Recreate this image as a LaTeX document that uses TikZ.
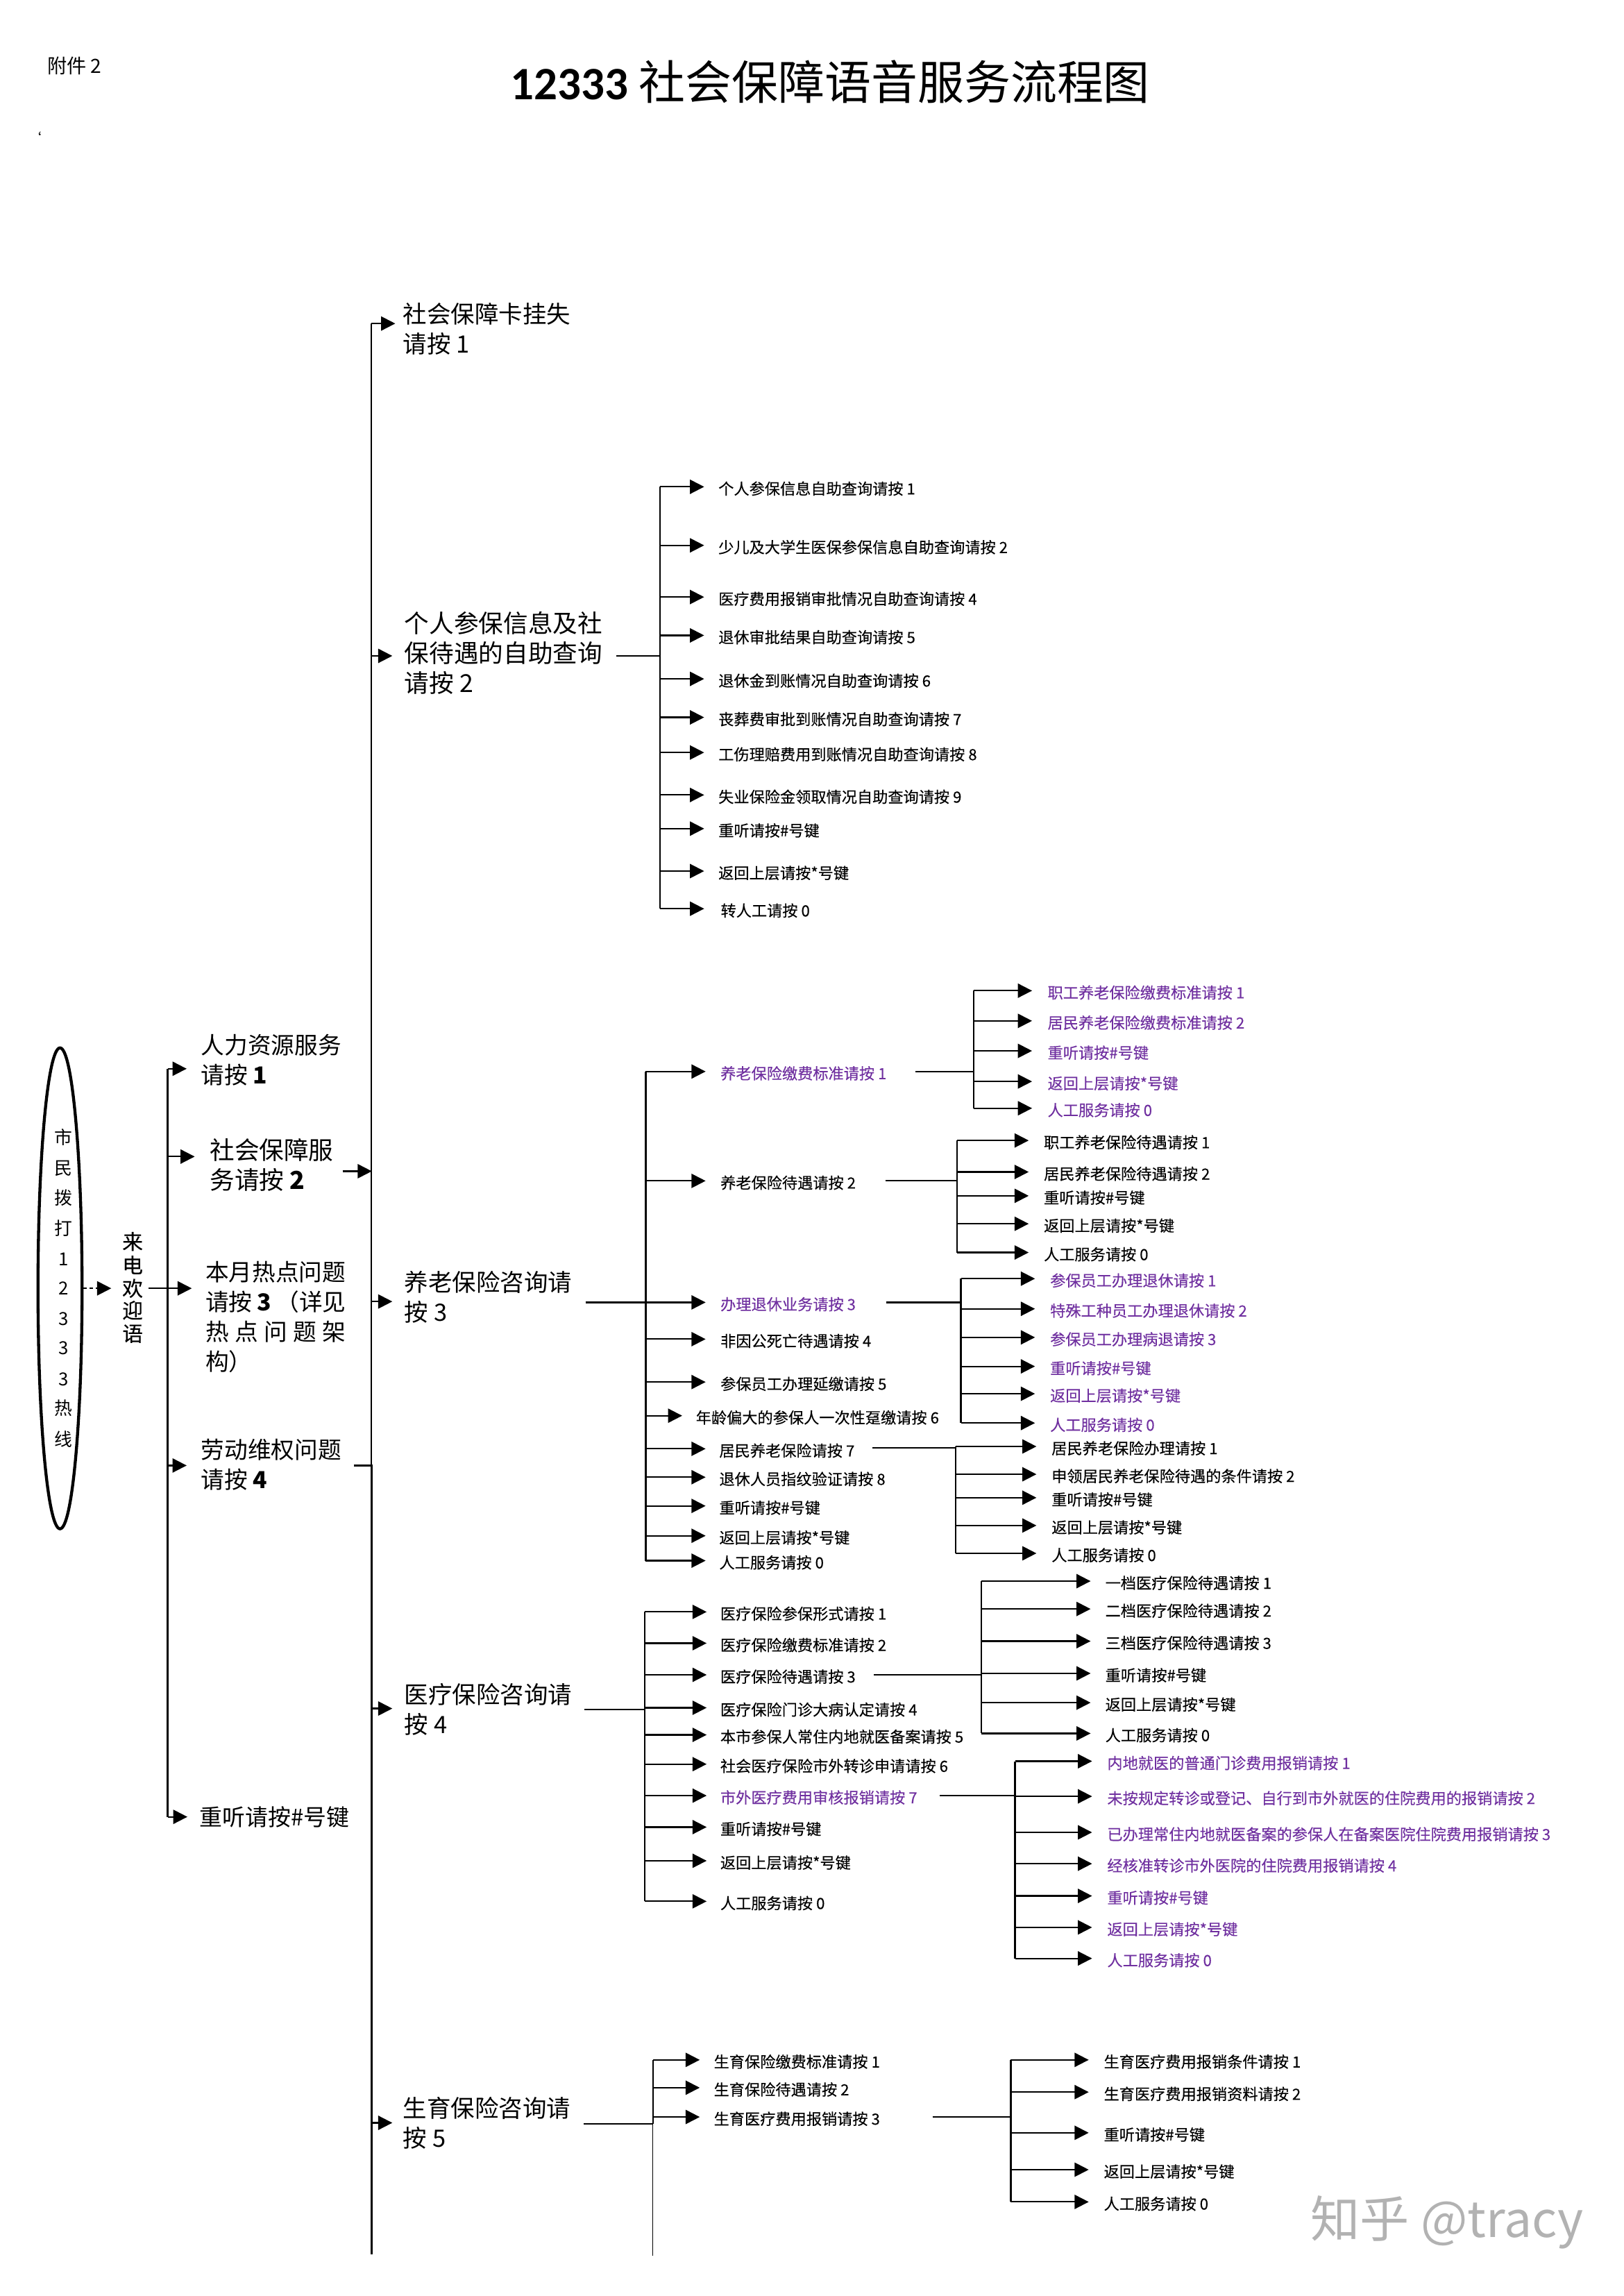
\documentclass[tikz,border=0pt]{standalone}
\usepackage{fontspec}
\usetikzlibrary{arrows.meta,shapes.geometric}
\setmainfont{Noto Sans CJK SC}
\newfontfamily\titlelatin{Carlito}
\newfontfamily\leaffont{Noto Sans CJK SC}[FakeBold=0.2]
\definecolor{purp}{HTML}{7030A0}
\tikzset{
  conn/.style={line width=0.55pt,draw=black},
  arr/.style={conn,-{Triangle[length=5.2pt,width=5.2pt]}},
  lf/.style={anchor=west,inner sep=0pt,text height=0.82em,text depth=0.2em,font=\leaffont\fontsize{5.67}{7}\selectfont},
  big/.style={anchor=west,inner sep=0pt,align=left,font=\fontsize{8.8}{11}\selectfont},
  bigw/.style={anchor=west,inner sep=0pt,align=left,font=\fontsize{9.1}{11}\selectfont},
  mid/.style={anchor=west,inner sep=0pt,align=left,font=\fontsize{8.6}{11}\selectfont},
  midw/.style={anchor=west,inner sep=0pt,align=left,font=\fontsize{9.1}{11}\selectfont},
  midn/.style={anchor=west,inner sep=0pt,align=left,font=\fontsize{8.4}{11}\selectfont},
  vert/.style={inner sep=0pt,font=\fontsize{6.6}{8}\selectfont},
  vertb/.style={inner sep=0pt,font=\leaffont\fontsize{7.6}{9}\selectfont},
  cur/.style={lf}
}
% group: spine coordinate name, arrow tip x, text x
\newcommand{\grp}[3]{\def\cursp{#1}\def\curtip{#2}\def\curtx{#3}}
\newcommand{\leaf}[3]{%
  \node[cur] (#1) at (\curtx,#2-0.5) {#3};
  \coordinate (#1-in) at (\curtip,#2);
  \draw[arr] (\cursp |- #1-in) -- (#1-in);
}
\newcommand{\purpleleaves}{\tikzset{cur/.style={lf,text=purp}}}
\newcommand{\blackleaves}{\tikzset{cur/.style={lf}}}
\begin{document}
\begin{tikzpicture}[x=0.018936cm,y=-0.018936cm]
\fill[white,use as bounding box] (0,0) rectangle (1109,1568.3);

% heading
\node[anchor=west,inner sep=0pt,font=\fontsize{7.2}{8}\selectfont] (attach) at (32,45) {附件 2};
\node[anchor=west,inner sep=0pt,font=\fontsize{17.1}{20}\selectfont] (title) at (348.5,56) {{\titlelatin\bfseries 12333} 社会保障语音服务流程图};
\node[inner sep=0pt,font=\fontsize{5}{6}\selectfont] (tick) at (24,94) {`};

% caller
\node[draw,ellipse,line width=1.1pt,inner sep=0pt,minimum width=0.57cm,minimum height=6.22cm] (caller) at (41,880) {};
\foreach \c/\yy [count=\i] in {市/777,民/798,拨/818,打/839,1/860,2/880,3/901,3/921,3/942,热/962,线/983}{
  \node[vert] (call\i) at (43.5,\yy) {\c};
}
% welcome
\foreach \c/\yy [count=\i] in {来/848,电/864,欢/880,迎/895,语/911}{
  \node[vertb] (wel\i) at (90.6,\yy) {\c};
}
\coordinate (wel-in) at (76,880);
\coordinate (wel-out) at (101.5,880);
\draw[arr,dash pattern=on 1.3pt off 1pt] (caller.east) -- (wel-in);

% first menu
\coordinate (sp-l) at (114.5,0);
\node[mid] (m1) at (137,724) {人力资源服务\\请按 {\bfseries 1}};
\node[midw] (m2) at (143,795.5) {社会保障服\\务请按 {\bfseries 2}};
\node[mid] (m3) at (140,899.5) {本月热点问题\\\makebox[51.7pt][s]{请按\hfill {\bfseries 3}\hfill（详见}\\\makebox[51.7pt][s]{热\hfill 点\hfill 问\hfill 题\hfill 架}\\构）};
\node[mid] (m4) at (137,1000.5) {劳动维权问题\\请按 {\bfseries 4}};
\node[midn] (m5) at (136,1241) {重听请按\#号键};
\coordinate (m1-in) at (127.5,730);
\coordinate (m2-in) at (133,790);
\coordinate (m3-in) at (131,880);
\coordinate (m4-in) at (127.5,1001);
\coordinate (m5-in) at (128,1241);
\draw[conn] (sp-l |- m1-in) -- (sp-l |- m5-in);
\draw[arr] (sp-l |- m1-in) -- (m1-in);
\draw[arr] (sp-l |- m2-in) -- (m2-in);
\draw[arr] (wel-out) -- (m3-in);
\draw[arr] (sp-l |- m4-in) -- (m4-in);
\draw[arr] (sp-l |- m5-in) -- (m5-in);

% main spine
\coordinate (sp-m) at (253.7,0);
\coordinate (sp-end) at (253.7,1540);
\coordinate (m2-out) at (234,800);
\coordinate (m2-tip) at (254,800);
\coordinate (m4-out) at (242,1001);
\draw[arr] (m2-out) -- (m2-tip);
\draw[line width=0.7pt] (m4-out) -- (sp-m |- m4-out) -- (sp-end);

\node[big] (g1) at (275,224.5) {社会保障卡挂失\\请按 1};
\node[bigw] (g2) at (276,446) {个人参保信息及社\\保待遇的自助查询\\请按 2};
\node[big] (g3) at (276,886) {养老保险咨询请\\按 3};
\node[big] (g4) at (276,1167.5) {医疗保险咨询请\\按 4};
\node[big] (g5) at (275,1450) {生育保险咨询请\\按 5};
\coordinate (g1-in) at (270,221);
\coordinate (g2-in) at (268,448);
\coordinate (g3-in) at (268,889);
\coordinate (g4-in) at (268,1167);
\coordinate (g5-in) at (268,1450);
\draw[line width=0.35pt] (sp-m |- g1-in) -- (sp-end);
\foreach \g in {g1,g2,g3,g4,g5}{\draw[arr] (sp-m |- \g-in) -- (\g-in);}

% ---- personal enquiry
\coordinate (sp-a) at (451,0);
\coordinate (g2-out) at (421,448);
\draw[conn] (g2-out) -- (sp-a |- g2-out);
\grp{sp-a}{481}{490.4}\blackleaves
\leaf{a1}{332.5}{个人参保信息自助查询请按 1}
\leaf{a2}{372.5}{少儿及大学生医保参保信息自助查询请按 2}
\leaf{a3}{407.8}{医疗费用报销审批情况自助查询请按 4}
\leaf{a4}{434}{退休审批结果自助查询请按 5}
\leaf{a5}{463.7}{退休金到账情况自助查询请按 6}
\leaf{a6}{490}{丧葬费审批到账情况自助查询请按 7}
\leaf{a7}{514}{工伤理赔费用到账情况自助查询请按 8}
\leaf{a8}{543}{失业保险金领取情况自助查询请按 9}
\leaf{a9}{566}{重听请按\#号键}
\leaf{a10}{595}{返回上层请按*号键}
\grp{sp-a}{481}{492}
\leaf{a11}{620.7}{转人工请按 0}
\draw[conn] (sp-a |- a1-in) -- (sp-a |- a11-in);

% ---- pension
\coordinate (sp-b) at (441,0);
\coordinate (g3-out) at (400,889.6);
\draw[conn] (g3-out) -- (sp-b |- g3-out);
\grp{sp-b}{482}{491.8}
\purpleleaves\leaf{b1}{731.9}{养老保险缴费标准请按 1}
\blackleaves\leaf{b2}{806.6}{养老保险待遇请按 2}
\purpleleaves\leaf{b3}{889.6}{办理退休业务请按 3}
\blackleaves\leaf{b4}{914.7}{非因公死亡待遇请按 4}
\leaf{b5}{944}{参保员工办理延缴请按 5}
\grp{sp-b}{466}{475}
\leaf{b6}{967}{年龄偏大的参保人一次性趸缴请按 6}
\grp{sp-b}{482}{491}
\leaf{b7}{989.6}{居民养老保险请按 7}
\leaf{b8}{1009}{退休人员指纹验证请按 8}
\leaf{b9}{1028.6}{重听请按\#号键}
\leaf{b10}{1049}{返回上层请按*号键}
\leaf{b11}{1066}{人工服务请按 0}
\draw[line width=0.8pt] (sp-b |- b1-in) -- (sp-b |- b11-in);

% pension sub 1
\coordinate (sp-c) at (665,0);
\coordinate (b1-out) at (625.5,731.9);
\draw[conn] (b1-out) -- (sp-c |- b1-out);
\grp{sp-c}{705}{715.3}\purpleleaves
\leaf{c1}{676.7}{职工养老保险缴费标准请按 1}
\leaf{c2}{697.3}{居民养老保险缴费标准请按 2}
\leaf{c3}{717.8}{重听请按\#号键}
\leaf{c4}{738.7}{返回上层请按*号键}
\leaf{c5}{757}{人工服务请按 0}
\draw[conn] (sp-c |- c1-in) -- (sp-c |- c5-in);

% pension sub 2
\coordinate (sp-d) at (653.7,0);
\coordinate (b2-out) at (604.8,806.6);
\draw[conn] (b2-out) -- (sp-d |- b2-out);
\grp{sp-d}{702.7}{712.7}\blackleaves
\leaf{d1}{779}{职工养老保险待遇请按 1}
\leaf{d2}{800.5}{居民养老保险待遇请按 2}
\leaf{d3}{816.8}{重听请按\#号键}
\leaf{d4}{835.9}{返回上层请按*号键}
\leaf{d5}{855.5}{人工服务请按 0}
\draw[conn] (sp-d |- d1-in) -- (sp-d |- d5-in);

% pension sub 3
\coordinate (sp-e) at (656.4,0);
\coordinate (b3-out) at (605.5,889.6);
\draw[conn] (b3-out) -- (sp-e |- b3-out);
\grp{sp-e}{707}{717}\purpleleaves
\leaf{e1}{873.4}{参保员工办理退休请按 1}
\leaf{e2}{894}{特殊工种员工办理退休请按 2}
\leaf{e3}{913.5}{参保员工办理病退请按 3}
\leaf{e4}{933.3}{重听请按\#号键}
\leaf{e5}{952}{返回上层请按*号键}
\leaf{e6}{972}{人工服务请按 0}
\draw[conn] (sp-e |- e1-in) -- (sp-e |- e6-in);

% pension sub 4
\coordinate (sp-f) at (652.7,0);
\coordinate (b7-out) at (596,989);
\draw[conn] (b7-out) -- (sp-f |- b7-out);
\grp{sp-f}{708}{718}\blackleaves
\leaf{f1}{988}{居民养老保险办理请按 1}
\leaf{f2}{1007}{申领居民养老保险待遇的条件请按 2}
\leaf{f3}{1023}{重听请按\#号键}
\leaf{f4}{1042}{返回上层请按*号键}
\leaf{f5}{1061}{人工服务请按 0}
\draw[conn] (sp-f |- f1-in) -- (sp-f |- f5-in);

% ---- medical
\coordinate (sp-g) at (440.6,0);
\coordinate (g4-out) at (399,1167.5);
\draw[conn] (g4-out) -- (sp-g |- g4-out);
\grp{sp-g}{482.7}{491.7}\blackleaves
\leaf{h1}{1101}{医疗保险参保形式请按 1}
\leaf{h2}{1122.4}{医疗保险缴费标准请按 2}
\leaf{h3}{1144}{医疗保险待遇请按 3}
\leaf{h4}{1166.5}{医疗保险门诊大病认定请按 4}
\leaf{h5}{1185}{本市参保人常住内地就医备案请按 5}
\leaf{h6}{1205}{社会医疗保险市外转诊申请请按 6}
\purpleleaves\leaf{h7}{1226.5}{市外医疗费用审核报销请按 7}
\blackleaves\leaf{h8}{1248}{重听请按\#号键}
\leaf{h9}{1271}{返回上层请按*号键}
\leaf{h10}{1298.7}{人工服务请按 0}
\draw[conn] (sp-g |- h1-in) -- (sp-g |- h10-in);

% medical sub 1
\coordinate (sp-i) at (670.5,0);
\coordinate (h3-out) at (597,1144);
\draw[conn] (h3-out) -- (sp-i |- h3-out);
\grp{sp-i}{745}{754.7}\blackleaves
\leaf{i1}{1080}{一档医疗保险待遇请按 1}
\leaf{i2}{1099}{二档医疗保险待遇请按 2}
\leaf{i3}{1121}{三档医疗保险待遇请按 3}
\leaf{i4}{1143}{重听请按\#号键}
\leaf{i5}{1163}{返回上层请按*号键}
\leaf{i6}{1184}{人工服务请按 0}
\draw[conn] (sp-i |- i1-in) -- (sp-i |- i6-in);

% medical sub 2
\coordinate (sp-j) at (693.4,0);
\coordinate (h7-out) at (642,1226.5);
\draw[conn] (h7-out) -- (sp-j |- h7-out);
\grp{sp-j}{746}{756}\purpleleaves
\leaf{j1}{1203}{内地就医的普通门诊费用报销请按 1}
\leaf{j2}{1227}{未按规定转诊或登记、自行到市外就医的住院费用的报销请按 2}
\leaf{j3}{1251.6}{已办理常住内地就医备案的参保人在备案医院住院费用报销请按 3}
\leaf{j4}{1273}{经核准转诊市外医院的住院费用报销请按 4}
\leaf{j5}{1295}{重听请按\#号键}
\leaf{j6}{1316.5}{返回上层请按*号键}
\leaf{j7}{1337.7}{人工服务请按 0}
\draw[line width=0.8pt] (sp-j |- j1-in) -- (sp-j |- j7-in);

% ---- maternity
\coordinate (sp-k) at (446,0);
\coordinate (sp-k-end) at (446,1541);
\coordinate (g5-out) at (398.5,1450.6);
\draw[conn] (g5-out) -- (sp-k |- g5-out);
\grp{sp-k}{478}{487.3}\blackleaves
\leaf{k1}{1407}{生育保险缴费标准请按 1}
\leaf{k2}{1426}{生育保险待遇请按 2}
\leaf{k3}{1446}{生育医疗费用报销请按 3}
\draw[conn] (sp-k |- k1-in) -- (sp-k |- g5-out);
\draw[line width=0.3pt] (sp-k |- g5-out) -- (sp-k-end);

% maternity sub
\coordinate (sp-n) at (690.5,0);
\coordinate (k3-out) at (637,1446);
\draw[conn] (k3-out) -- (sp-n |- k3-out);
\grp{sp-n}{743.7}{753.7}
\leaf{n1}{1407}{生育医疗费用报销条件请按 1}
\leaf{n2}{1429}{生育医疗费用报销资料请按 2}
\leaf{n3}{1456.8}{重听请按\#号键}
\leaf{n4}{1482}{返回上层请按*号键}
\leaf{n5}{1504}{人工服务请按 0}
\draw[conn] (sp-n |- n1-in) -- (sp-n |- n5-in);

% watermark
\node[anchor=west,inner sep=0pt,text=black!30,font=\fontsize{18.2}{20}\selectfont] (mark) at (895,1518) {知乎 @tracy};
\end{tikzpicture}
\end{document}
